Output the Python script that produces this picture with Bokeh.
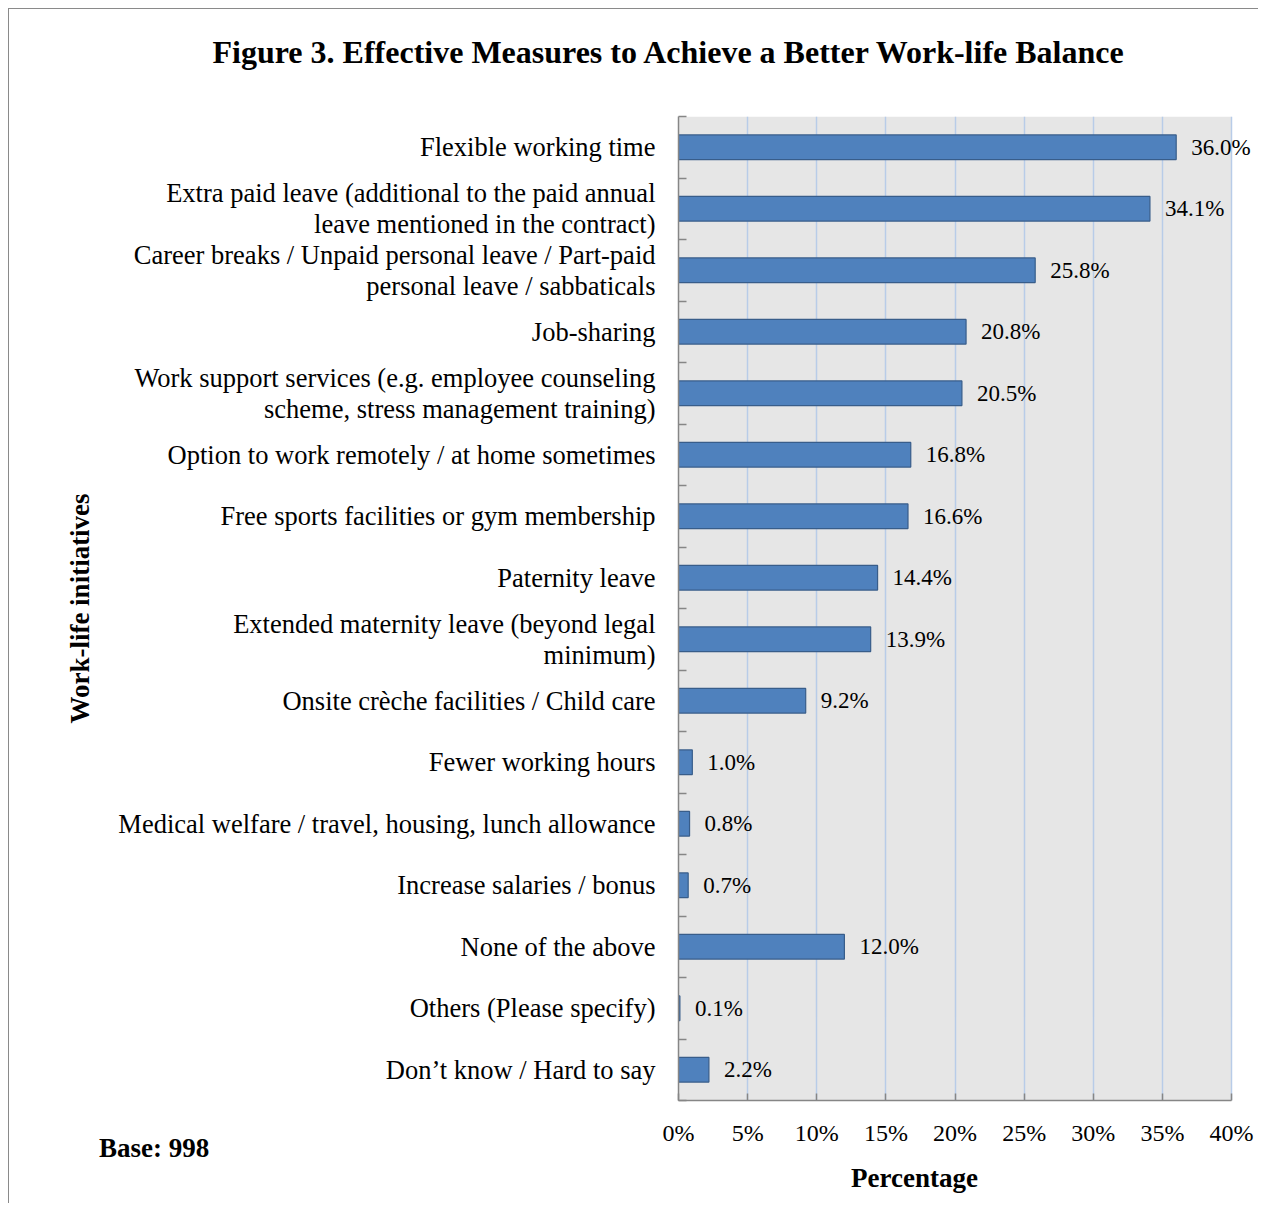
import math
from bokeh.plotting import figure
from bokeh.models import (Range1d, FixedTicker, PrintfTickFormatter, Title,
                          LabelSet, ColumnDataSource, BoxAnnotation)
from bokeh.core.properties import value
from bokeh.embed import file_html
from bokeh.resources import INLINE

categories = [
    "Flexible working time",
    "Extra paid leave (additional to the paid annual\nleave mentioned in the contract)",
    "Career breaks / Unpaid personal leave / Part-paid\npersonal leave / sabbaticals",
    "Job-sharing",
    "Work support services (e.g. employee counseling\nscheme, stress management training)",
    "Option to work remotely / at home sometimes",
    "Free sports facilities or gym membership",
    "Paternity leave",
    "Extended maternity leave (beyond legal\nminimum)",
    "Onsite crèche facilities / Child care",
    "Fewer working hours",
    "Medical welfare / travel, housing, lunch allowance",
    "Increase salaries / bonus",
    "None of the above",
    "Others (Please specify)",
    "Don\u2019t know / Hard to say",
]
values = [36.0, 34.1, 25.8, 20.8, 20.5, 16.8, 16.6, 14.4, 13.9, 9.2,
          1.0, 0.8, 0.7, 12.0, 0.1, 2.2]
x_ticks = [0, 5, 10, 15, 20, 25, 30, 35, 40]

FONT = "Liberation Serif"
n = len(categories)
pos = [i + 0.5 for i in range(n)]
src = ColumnDataSource(dict(y=pos, v=values, lab=[f"{v:.1f}%" for v in values]))

X_MAX = 40
x_end = X_MAX * 581 / 553  # room on the right for the value labels

p = figure(width=1250, height=1195, output_backend="svg", toolbar_location=None,
           x_range=Range1d(0, x_end), y_range=Range1d(n, 0), title=None,
           min_border_left=669, min_border_top=107, min_border_right=0,
           min_border_bottom=104)
p.styles = {"margin-left": "8px", "margin-top": "8px",
            "border-left": "1.5px solid #8a8a8a", "border-top": "1.5px solid #8a8a8a"}
p.background_fill_color = "white"
p.border_fill_color = "white"
p.outline_line_color = None

p.add_layout(BoxAnnotation(left=0, right=X_MAX, fill_color="#E6E6E6", fill_alpha=1,
                           line_color=None, level="image"))

p.hbar(y="y", left=0, right="v", height=0.4, source=src,
       fill_color="#4F81BD", line_color="#385D8A", line_width=1.2)

p.add_layout(LabelSet(x="v", y="y", text="lab", source=src, x_offset=15,
                      text_baseline="middle", text_align="left",
                      text_font=value(FONT), text_font_size="23px",
                      text_color="black"))

# grids
p.ygrid.visible = False
p.xgrid.grid_line_color = "#B8CCE8"
p.xgrid.grid_line_width = 1.5

# x axis
xa = p.xaxis[0]
xa.ticker = FixedTicker(ticks=x_ticks)
xa.bounds = (0, X_MAX)
xa.formatter = PrintfTickFormatter(format="%d%%")
xa.major_tick_in = 7
xa.major_tick_out = 0
xa.minor_tick_line_color = None
xa.axis_line_color = "#868686"
xa.axis_line_width = 1.5
xa.major_tick_line_color = "#868686"
xa.major_tick_line_width = 1.5
xa.major_label_standoff = 19
xa.major_label_text_font = FONT
xa.major_label_text_font_size = "24px"
xa.major_label_text_color = "black"

# y axis
ya = p.yaxis[0]
ya.ticker = FixedTicker(ticks=pos, minor_ticks=list(range(n + 1)))
ya.major_label_overrides = {pp: c for pp, c in zip(pos, categories)}
ya.major_tick_in = 0
ya.major_tick_out = 0
ya.minor_tick_in = 8
ya.minor_tick_out = 0
ya.minor_tick_line_color = "#868686"
ya.minor_tick_line_width = 1.5
ya.axis_line_color = "#868686"
ya.axis_line_width = 1.5
ya.major_label_standoff = 23
ya.major_label_text_font = FONT
ya.major_label_text_font_size = "26.5px"
ya.major_label_text_color = "black"
ya.major_label_text_line_height = 1.03
ya.axis_label = "Work-life initiatives"
ya.axis_label_standoff = 20
ya.axis_label_text_font = FONT
ya.axis_label_text_font_size = "27px"
ya.axis_label_text_font_style = "bold"
ya.axis_label_text_color = "black"

# top: spacer (nearest the frame) then the main title
p.add_layout(Title(text=" ", text_font_size="1px", standoff=39), "above")
p.add_layout(Title(text="Figure 3. Effective Measures to Achieve a Better Work-life Balance",
                   align="left", offset=-466, text_font=FONT, text_font_size="32px",
                   text_font_style="bold", text_color="black"), "above")

# bottom: base note and axis title
p.add_layout(Title(text="Base: 998", align="left", offset=-579.5, vertical_align="top",
                   standoff=-31, text_font=FONT, text_font_size="27px",
                   text_font_style="bold", text_color="black"), "below")
p.add_layout(Title(text="Percentage", align="left", offset=172.5, vertical_align="bottom",
                   standoff=23, text_font=FONT, text_font_size="27px",
                   text_font_style="bold", text_color="black"), "below")

open("out.html", "w").write(file_html(p, INLINE))
